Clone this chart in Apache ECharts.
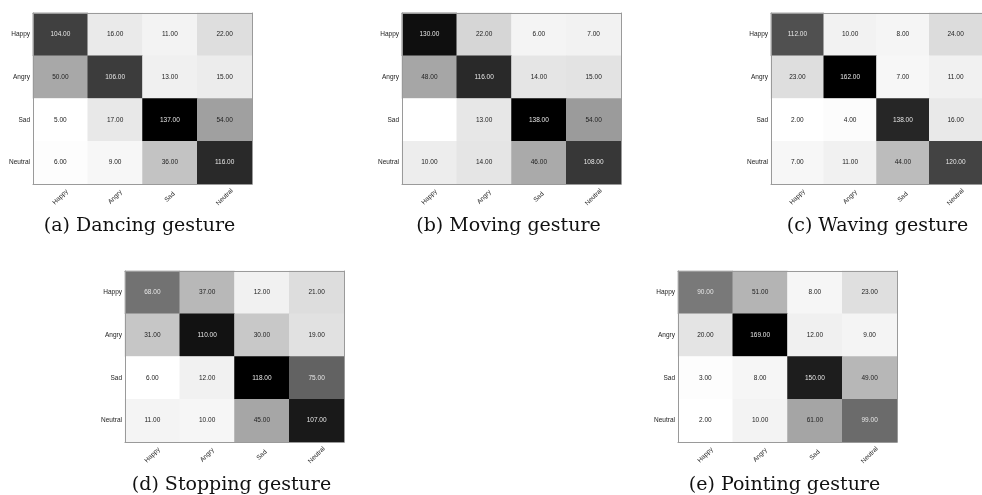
<!DOCTYPE html>
<html>
<head>
<meta charset="utf-8">
<script src="https://cdn.jsdelivr.net/npm/echarts@6/dist/echarts.min.js"></script>
<style>
html,body{margin:0;padding:0;background:#fff;}
#chart{width:982px;height:495px;}
</style>
</head>
<body>
<div id="chart"></div>
<script>
// ---- data ----
const categories = ['Happy', 'Angry', 'Sad', 'Neutral'];
const captions = ['(a) Dancing gesture', '(b) Moving gesture', '(c) Waving gesture', '(d) Stopping gesture', '(e) Pointing gesture'];
// rows = true label (y, top to bottom), columns = predicted label (x)
const dancing  = [[104, 16, 11, 22], [50, 106, 13, 15], [5, 17, 137, 54], [6, 9, 36, 116]];
const moving   = [[130, 22, 6, 7], [48, 116, 14, 15], [0, 13, 138, 54], [10, 14, 46, 108]];
const waving   = [[112, 10, 8, 24], [23, 162, 7, 11], [2, 4, 138, 16], [7, 11, 44, 120]];
const stopping = [[68, 37, 12, 21], [31, 110, 30, 19], [6, 12, 118, 75], [11, 10, 45, 107]];
const pointing = [[90, 51, 8, 23], [20, 169, 12, 9], [3, 8, 150, 49], [2, 10, 61, 99]];
const matrices = [dancing, moving, waving, stopping, pointing];

// ---- layout (pixels) ----
const layout = [
  {left: 33,  top: 13,  w: 219, h: 171},
  {left: 402, top: 13,  w: 219, h: 171},
  {left: 771, top: 13,  w: 219, h: 171},
  {left: 125, top: 271, w: 219, h: 171},
  {left: 678, top: 271, w: 219, h: 171}
];
const captionTop = [212, 471];

const grid = [], xAxis = [], yAxis = [], series = [], visualMap = [], title = [];
const lineStyle = {color: '#9a9a9a', width: 1};
const axisFont = {fontFamily: 'Liberation Sans, Arial, sans-serif', fontSize: 6.5, color: '#222'};

matrices.forEach((m, i) => {
  const L = layout[i];
  grid.push({left: L.left, top: L.top, width: L.w, height: L.h, containLabel: false});
  const flat = m.flat();
  const mn = Math.min(...flat), mx = Math.max(...flat);
  xAxis.push({type: 'category', data: categories, gridIndex: i, position: 'bottom', z: 5,
    axisLine: {show: true, lineStyle}, axisTick: {show: false}, splitLine: {show: false},
    axisLabel: Object.assign({rotate: 45, margin: 13, align: 'center', verticalAlign: 'middle', interval: 0}, axisFont)});
  xAxis.push({type: 'category', data: categories, gridIndex: i, position: 'top', z: 5,
    axisLine: {show: true, lineStyle}, axisTick: {show: false}, axisLabel: {show: false}, splitLine: {show: false}});
  yAxis.push({type: 'category', data: categories, gridIndex: i, inverse: true, position: 'left', z: 5,
    axisLine: {show: true, lineStyle}, axisTick: {show: false}, splitLine: {show: false},
    axisLabel: Object.assign({margin: 3, interval: 0}, axisFont)});
  yAxis.push({type: 'category', data: categories, gridIndex: i, inverse: true, position: 'right', z: 5,
    axisLine: {show: true, lineStyle}, axisTick: {show: false}, axisLabel: {show: false}, splitLine: {show: false}});

  const data = [];
  m.forEach((row, r) => row.forEach((v, c) => {
    const t = (v - mn) / (mx - mn);
    data.push({value: [c, r, v], label: {color: t > 0.5 ? '#e6e6e6' : '#222'}});
  }));
  series.push({
    type: 'heatmap', xAxisIndex: 2 * i, yAxisIndex: 2 * i, data,
    label: {show: true, fontFamily: 'Liberation Sans, Arial, sans-serif', fontSize: 6.5,
      formatter: p => (p.value[2] === 0 ? '' : p.value[2].toFixed(2))},
    emphasis: {disabled: true}
  });
  visualMap.push({type: 'continuous', show: false, seriesIndex: i, dimension: 2, min: mn, max: mx,
    inRange: {color: ['#ffffff', '#000000']}});
  title.push({text: captions[i], left: L.left + L.w / 2 - 8, top: captionTop[i < 3 ? 0 : 1], textAlign: 'center',
    textStyle: {fontFamily: 'DejaVu Serif, serif', fontSize: 19, fontWeight: 'normal', color: '#111'}});
});

const chart = echarts.init(document.getElementById('chart'), null, {renderer: 'canvas'});
chart.setOption({animation: false, backgroundColor: '#fff', title, grid, xAxis, yAxis, visualMap, series});
</script>
</body>
</html>
